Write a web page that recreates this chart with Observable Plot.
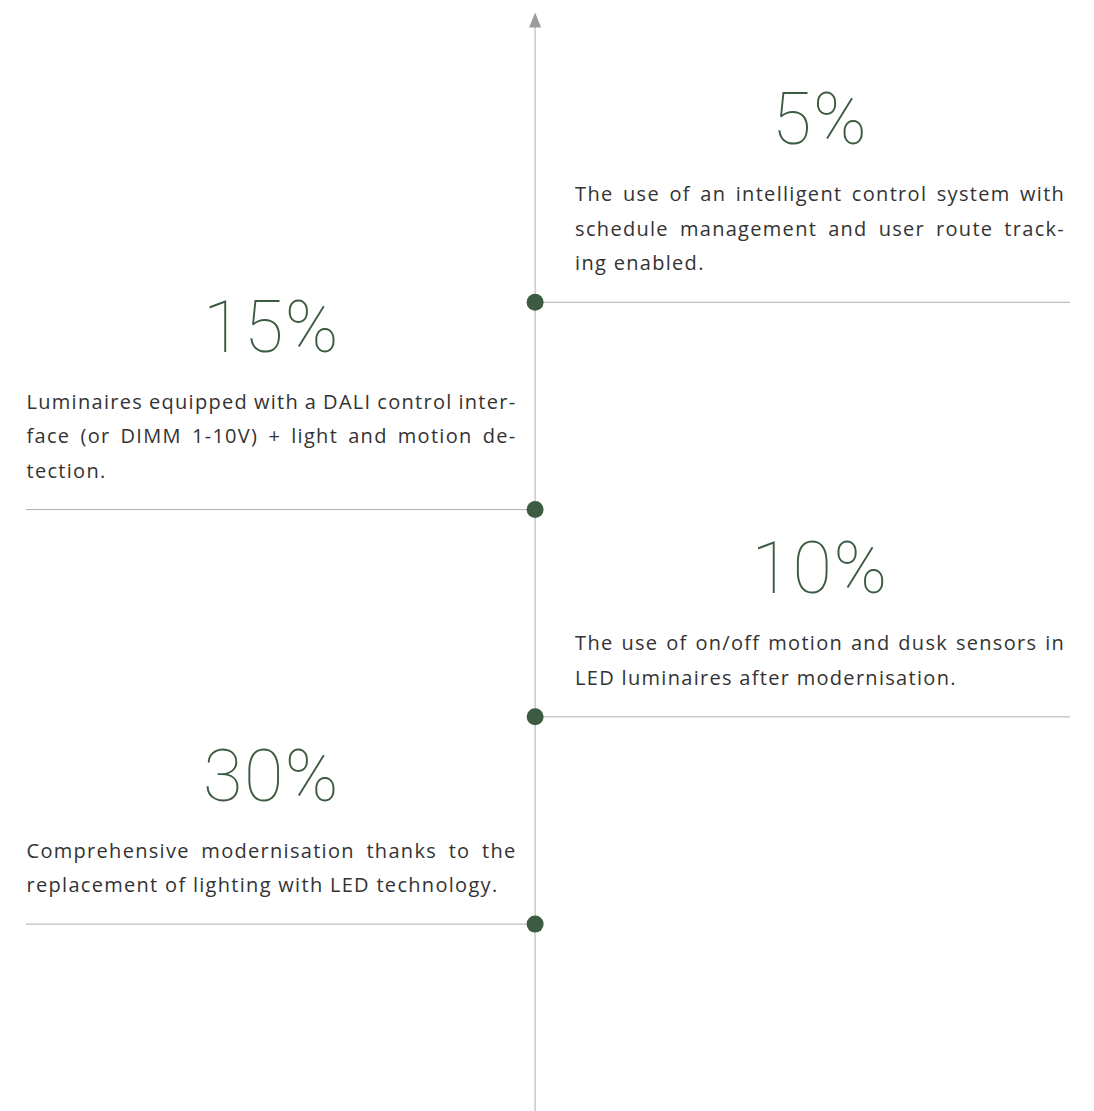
<!DOCTYPE html>
<html><head><meta charset="utf-8">
<script src="https://cdn.jsdelivr.net/npm/d3@7"></script>
<script src="https://cdn.jsdelivr.net/npm/@observablehq/plot@0.6"></script>
<style>body{margin:0;background:#fff}</style>
</head><body><div id="chart"></div>
<script>
// ---- data ----
const values = [5, 15, 10, 30];
const steps = [1, 2, 3, 4];
const sides = ["right", "left", "right", "left"];
const descriptions = [
  ["The use of an intelligent control system with", "schedule management and user route track-", "ing enabled."],
  ["Luminaires equipped with a DALI control inter-", "face (or DIMM 1-10V) + light and motion de-", "tection."],
  ["The use of on/off motion and dusk sensors in", "LED luminaires after modernisation."],
  ["Comprehensive modernisation thanks to the", "replacement of lighting with LED technology."]
];

// ---- style ----
const GREEN = "#3d5b41";
const TEXT = "#333333";
const FS = 20, LINE = 34.5, LAST_GAP = 32, NUM_GAP = 57, BLOCK_W = 490, INSET = 40;
const xDomain = [-0.95, 1];
const yDomain = [-0.456, 4.904];

const items = values.map((v, i) => ({
  step: steps[i], value: v, label: `${v}%`, side: sides[i],
  n: descriptions[i].length, text: descriptions[i].join("\n")
}));
const right = items.filter(d => d.side === "right");
const left = items.filter(d => d.side === "left");

const arrowHead = {
  draw(context, l) {
    context.moveTo(0, -l);
    context.lineTo(6, 0);
    context.lineTo(-6, 0);
    context.closePath();
  }
};

const numberMarks = d3.groups(items, d => d.side, d => d.n).flatMap(([side, g]) =>
  g.map(([n, rows]) => Plot.text(rows, {
    x: side === "right" ? 0 : xDomain[0],
    y: "step",
    text: "label",
    dx: side === "right" ? INSET + BLOCK_W / 2 : BLOCK_W / 2,
    dy: -(LAST_GAP + (n - 1) * LINE + NUM_GAP),
    lineAnchor: "bottom",
    textAnchor: "middle",
    fontSize: 72,
    fontWeight: 100,
    fontFamily: "Roboto",
    fill: GREEN,
    className: "num"
  }))
);

const chart = Plot.plot({
  width: 1094, height: 1111,
  marginLeft: 26, marginRight: 24, marginTop: 0, marginBottom: 0,
  x: {domain: xDomain, axis: null},
  y: {domain: yDomain, reverse: true, axis: null},
  style: {background: "#fff", fontFamily: "'Open Sans'"},
  marks: [
    Plot.ruleX([0], {y1: yDomain[0], y2: yDomain[1], insetTop: 22, stroke: "#c9c9c9", strokeWidth: 1.5}),
    Plot.vector([0], {x: 0, y: yDomain[0], length: 15, anchor: "start", dy: 27, shape: arrowHead, fill: "#9b9b9b", stroke: "none"}),
    Plot.ruleY(items, {
      y: "step",
      x1: d => d.side === "right" ? 0 : xDomain[0],
      x2: d => d.side === "right" ? xDomain[1] : 0,
      stroke: "#b0b0b0", strokeWidth: 1
    }),
    Plot.dot(items, {x: 0, y: "step", r: 8.5, fill: GREEN, stroke: "none"}),
    Plot.text(right, {x: 0, y: "step", text: "text", dx: INSET, dy: -LAST_GAP, textAnchor: "start", lineAnchor: "bottom",
      lineHeight: LINE / FS, fontSize: FS, fill: TEXT, className: "desc"}),
    Plot.text(left, {x: xDomain[0], y: "step", text: "text", dx: 0, dy: -LAST_GAP, textAnchor: "start", lineAnchor: "bottom",
      lineHeight: LINE / FS, fontSize: FS, fill: TEXT, className: "desc"}),
    ...numberMarks
  ]
});

document.getElementById("chart").appendChild(chart);
chart.querySelectorAll(".desc").forEach(g => g.setAttribute("letter-spacing", "1.3"));
chart.querySelectorAll(".num").forEach(g => g.setAttribute("letter-spacing", "1.5"));

// justify all but the last line of each description
chart.querySelectorAll(".desc text").forEach(t => {
  const spans = Array.from(t.querySelectorAll("tspan"));
  spans.slice(0, -1).forEach(s => {
    const spaces = (s.textContent.match(/ /g) || []).length;
    if (!spaces) return;
    const w = s.getComputedTextLength();
    s.setAttribute("word-spacing", ((BLOCK_W - w) / spaces).toFixed(2));
  });
});
</script>
</body></html>
